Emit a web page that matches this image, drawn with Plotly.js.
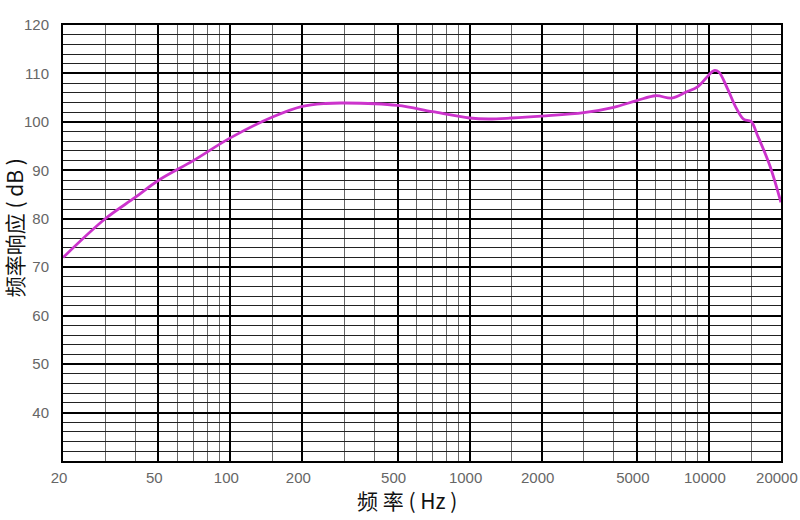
<!DOCTYPE html>
<html>
<head>
<meta charset="utf-8">
<script src="https://cdn.plot.ly/plotly-3.0.1.min.js"></script>
<style>html,body{margin:0;padding:0;background:#fff}#chart{width:800px;height:520px}</style>
</head>
<body>
<div id="chart"></div>
<script>
const freqHz = [20, 30, 40, 50, 70, 100, 150, 200, 250, 300, 500, 700, 1000, 1200, 1500, 2000, 3000, 4000, 5000, 6000, 7000, 8000, 9000, 10000, 10500, 11000, 12000, 13000, 14000, 15000, 16000, 18000, 20000];
const responseDb = [72.0, 80.0, 84.4, 87.9, 92.0, 96.7, 101.0, 103.2, 103.8, 103.9, 103.4, 102.1, 100.8, 100.6, 100.8, 101.2, 101.9, 103.0, 104.4, 105.4, 104.9, 106.1, 107.3, 109.7, 110.6, 110.3, 106.7, 102.9, 100.5, 100.1, 97.1, 90.9, 83.4];
const xMajorTicks = [20, 50, 100, 200, 500, 1000, 2000, 5000, 10000, 20000];
const xTickLabels = ["20", "50", "100", "200", "500", "1000", "2000", "5000", "10000", "20000"];
const xMinorTicks = [30, 40, 60, 70, 80, 90, 150, 300, 400, 600, 700, 800, 900, 1500, 3000, 4000, 6000, 7000, 8000, 9000, 15000];
const yTicks = [40, 50, 60, 70, 80, 90, 100, 110, 120];
const xTitle = '频 率 ( Hz )';
const yTitle = '频率响应 ( dB )';

const tickFont = {family: 'Liberation Sans, Arial, sans-serif', size: 15, color: '#666'};
const titleFont = {family: 'Noto Sans CJK SC, sans-serif', size: 21, color: '#111'};

Plotly.newPlot('chart', [{
  x: freqHz, y: responseDb, type: 'scatter', mode: 'lines',
  line: {color: '#cc33cc', width: 2.8, shape: 'spline', smoothing: 1},
  hoverinfo: 'skip'
}], {
  width: 800, height: 520,
  margin: {l: 63, r: 19, t: 25, b: 59},
  paper_bgcolor: '#fff', plot_bgcolor: '#fff',
  showlegend: false,
  xaxis: {
    type: 'log', range: [Math.log10(20) - 0.0004, Math.log10(20000) + 0.0004],
    tickmode: 'array', tickvals: xMajorTicks, ticktext: xTickLabels,
    ticklabeloverflow: 'allow', ticklabelshift: -4,
    showgrid: true, gridcolor: '#000', gridwidth: 2,
    minor: {tickmode: 'array', tickvals: xMinorTicks, showgrid: true, gridcolor: '#666', gridwidth: 1, ticks: ''},
    showline: true, linecolor: '#000', linewidth: 2, mirror: true,
    ticks: 'outside', ticklen: 2, tickcolor: 'rgba(0,0,0,0)',
    tickfont: tickFont, zeroline: false
  },
  yaxis: {
    range: [30, 120],
    tickmode: 'array', tickvals: yTicks,
    showgrid: true, gridcolor: '#000', gridwidth: 2,
    minor: {dtick: 2, tick0: 30, showgrid: true, gridcolor: '#222', gridwidth: 1, ticks: ''},
    showline: true, linecolor: '#000', linewidth: 2, mirror: true,
    ticks: 'outside', ticklen: 9, tickcolor: 'rgba(0,0,0,0)',
    tickfont: tickFont, zeroline: false
  },
  annotations: [
    {text: xTitle, xref: 'paper', yref: 'paper', x: 0.479, y: -0.089, xanchor: 'center', yanchor: 'middle', showarrow: false, font: titleFont},
    {text: yTitle, xref: 'paper', yref: 'paper', x: -0.0682, y: 0.534, xanchor: 'center', yanchor: 'middle', textangle: -90, showarrow: false, font: titleFont}
  ]
}, {displayModeBar: false, staticPlot: true});
</script>
</body>
</html>
